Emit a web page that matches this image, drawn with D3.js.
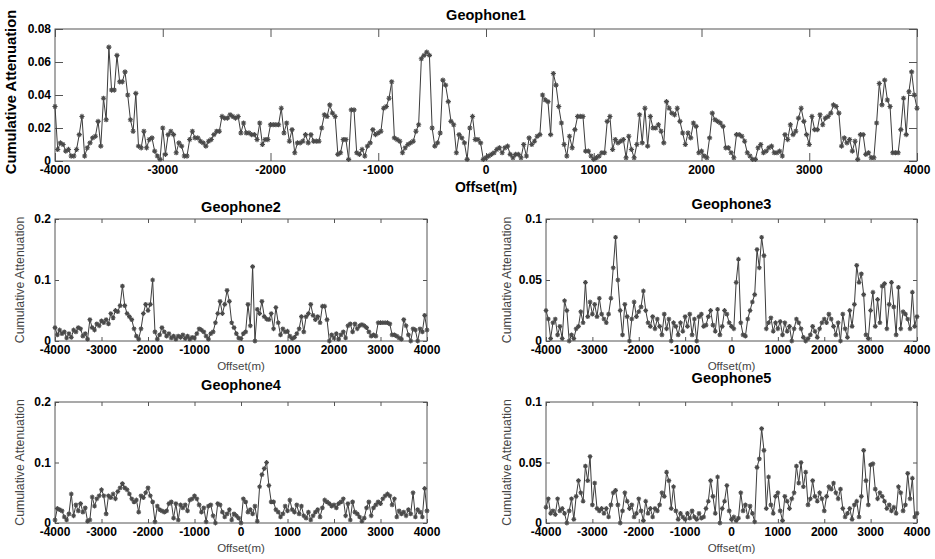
<!DOCTYPE html>
<html>
<head>
<meta charset="utf-8">
<script src="https://cdn.jsdelivr.net/npm/d3@7"></script>
<style>
  body { margin: 0; background: #fff; }
  svg { display: block; font-family: "Liberation Sans", Arial, sans-serif; }
  .tick-label { font-weight: bold; font-size: 12px; fill: #000; }
</style>
</head>
<body>
<svg id="chart" width="935" height="559"></svg>
<script>
// offsets in metres, sampled at a fixed step along each line
var OFFSET_MIN = -4000;
var OFFSET_MAX = 4000;
var X_TICKS = [-4000, -3000, -2000, -1000, 0, 1000, 2000, 3000, 4000];

// Geophone1: one value every 25 m
var GEO1 = [
  .033,.007,.011,.010,.006,.007,.003,.003,.007,.016,
  .027,.003,.008,.011,.014,.015,.024,.009,.038,.025,
  .069,.043,.043,.064,.048,.048,.054,.040,.025,.018,
  .041,.009,.008,.018,.008,.013,.014,.006,.003,.001,
  .020,.004,.016,.018,.016,.005,.011,.009,.003,.003,
  .013,.018,.014,.014,.012,.011,.009,.012,.013,.016,
  .018,.018,.027,.026,.026,.028,.027,.026,.027,.017,
  .023,.017,.017,.016,.016,.013,.023,.010,.013,.013,
  .022,.022,.022,.022,.032,.017,.023,.012,.019,.005,
  .011,.011,.012,.016,.011,.016,.012,.012,.012,.020,
  .028,.027,.034,.029,.027,.004,.005,.013,.013,.001,
  .031,.031,.005,.004,.007,.003,.009,.011,.019,.016,
  .017,.018,.032,.033,.038,.048,.014,.013,.012,.005,
  .008,.010,.011,.012,.018,.022,.062,.064,.066,.064,
  .020,.009,.011,.017,.049,.046,.036,.024,.022,.005,
  .016,.014,.011,.001,.020,.027,.013,.013,.011,.001,
  .002,.003,.004,.005,.007,.008,.005,.008,.009,.004,
  .002,.004,.004,.002,.010,.003,.014,.010,.012,.015,
  .016,.040,.037,.036,.016,.053,.046,.033,.023,.010,
  .003,.015,.008,.019,.027,.027,.027,.006,.006,.003,
  .001,.002,.003,.005,.005,.024,.027,.007,.013,.011,
  .012,.013,.002,.015,.007,.002,.010,.028,.011,.032,
  .009,.027,.020,.020,.022,.018,.011,.036,.032,.029,
  .028,.032,.024,.017,.010,.017,.014,.023,.021,.005,
  .006,.003,.002,.014,.029,.025,.024,.023,.021,.008,
  .008,.005,.002,.016,.016,.015,.012,.005,.003,.001,
  .001,.008,.010,.005,.006,.008,.009,.005,.005,.006,
  .003,.016,.013,.022,.016,.018,.026,.032,.024,.016,
  .010,.027,.019,.019,.028,.022,.026,.027,.029,.034,
  .033,.029,.009,.014,.011,.013,.006,.012,.001,.016,
  .016,.004,.005,.002,.002,.023,.047,.034,.049,.037,
  .033,.005,.005,.005,.019,.038,.016,.042,.054,.040,
  .032
];

// Geophone2..5: one value every 50 m
var GEO2 = [
  .022,.010,.018,.012,.015,.005,.012,.006,.018,.015,
  .022,.020,.008,.012,.003,.035,.022,.018,.028,.025,
  .033,.030,.035,.028,.045,.038,.050,.048,.058,.090,
  .058,.045,.040,.035,.020,.008,.003,.020,.045,.060,
  .050,.060,.100,.015,.003,.010,.022,.015,.008,.012,
  .005,.008,.003,.008,.006,.010,.004,.008,.003,.006,
  .005,.012,.020,.018,.015,.008,.003,.012,.015,.030,
  .045,.065,.045,.060,.083,.065,.030,.022,.012,.005,
  .004,.012,.015,.060,.025,.122,.000,.052,.045,.065,
  .040,.036,.035,.045,.020,.055,.030,.010,.020,.015,
  .016,.008,.004,.006,.012,.020,.040,.015,.040,.045,
  .060,.042,.035,.040,.030,.057,.057,.035,.000,.010,
  .005,.012,.003,.010,.015,.005,.025,.028,.015,.028,
  .020,.025,.027,.025,.022,.015,.008,.010,.008,.030,
  .030,.030,.030,.030,.028,.010,.010,.008,.005,.003,
  .035,.025,.010,.000,.020,.018,.000,.020,.015,.042,
  .018
];

var GEO3 = [
  .025,.018,.002,.015,.018,.005,.012,.002,.033,.025,
  .000,.005,.002,.010,.012,.024,.015,.048,.020,.032,
  .022,.030,.020,.035,.022,.018,.015,.022,.035,.060,
  .085,.050,.025,.005,.030,.020,.000,.018,.032,.020,
  .024,.028,.041,.025,.015,.012,.020,.010,.018,.012,
  .005,.022,.010,.018,.000,.015,.012,.005,.015,.008,
  .020,.012,.022,.005,.018,.000,.020,.022,.012,.013,
  .020,.025,.013,.008,.026,.005,.012,.025,.022,.015,
  .012,.010,.048,.067,.015,.005,.004,.018,.025,.032,
  .038,.075,.060,.085,.070,.010,.015,.019,.008,.015,
  .010,.016,.005,.015,.008,.012,.000,.010,.018,.015,
  .010,.003,.000,.002,.005,.012,.008,.003,.010,.015,
  .018,.015,.022,.018,.012,.005,.015,.000,.022,.010,
  .003,.025,.012,.030,.062,.048,.055,.038,.005,.002,
  .025,.040,.012,.034,.015,.045,.047,.010,.030,.048,
  .028,.005,.044,.010,.024,.022,.018,.010,.040,.012,
  .020
];

var GEO4 = [
  .005,.024,.022,.020,.010,.005,.015,.048,.012,.030,
  .020,.032,.018,.025,.003,.005,.043,.028,.040,.045,
  .055,.045,.015,.045,.042,.048,.040,.052,.058,.065,
  .058,.055,.048,.040,.035,.038,.018,.045,.042,.050,
  .058,.045,.035,.002,.028,.022,.020,.018,.020,.032,
  .035,.008,.032,.005,.030,.025,.030,.020,.038,.040,
  .045,.040,.030,.018,.025,.002,.028,.030,.012,.000,
  .032,.030,.018,.010,.015,.022,.005,.015,.012,.008,
  .000,.040,.035,.018,.022,.015,.028,.003,.060,.080,
  .090,.100,.062,.035,.035,.022,.018,.010,.015,.028,
  .020,.038,.022,.018,.030,.015,.028,.012,.008,.018,
  .005,.012,.018,.022,.010,.025,.038,.035,.032,.028,
  .030,.025,.032,.035,.040,.012,.032,.005,.035,.018,
  .015,.010,.003,.008,.025,.035,.012,.025,.030,.035,
  .032,.040,.045,.048,.045,.030,.040,.010,.020,.015,
  .018,.012,.022,.015,.050,.010,.022,.018,.010,.057,
  .020
];

var GEO5 = [
  .013,.020,.008,.010,.007,.020,.010,.012,.008,.000,
  .010,.020,.003,.022,.035,.025,.018,.047,.035,.055,
  .015,.033,.012,.010,.012,.008,.012,.005,.015,.025,
  .027,.015,.000,.010,.025,.018,.012,.015,.005,.008,
  .020,.010,.002,.018,.008,.012,.005,.012,.010,.015,
  .025,.022,.042,.035,.012,.030,.010,.003,.008,.005,
  .003,.008,.004,.010,.005,.003,.008,.004,.005,.012,
  .018,.035,.022,.008,.038,.000,.012,.018,.031,.010,
  .003,.005,.002,.004,.025,.010,.015,.005,.014,.008,
  .001,.046,.053,.078,.060,.012,.038,.015,.008,.022,
  .025,.010,.002,.022,.018,.012,.020,.025,.047,.033,
  .050,.030,.042,.015,.020,.035,.022,.018,.025,.020,
  .010,.022,.030,.028,.033,.025,.020,.028,.012,.005,
  .008,.012,.003,.015,.018,.005,.022,.060,.035,.015,
  .048,.049,.028,.020,.025,.022,.018,.012,.015,.010,
  .013,.008,.030,.025,.010,.015,.041,.020,.037,.005,
  .008
];

var TITLES = ["Geophone1", "Geophone2", "Geophone3", "Geophone4", "Geophone5"];
var Y_TICKS_WIDE = [0, 0.02, 0.04, 0.06, 0.08];
var Y_TICKS_02 = [0, 0.1, 0.2];
var Y_TICKS_01 = [0, 0.05, 0.1];

// layout of each axes box: left, top, right, bottom
var panels = [
  {title: TITLES[0], values: GEO1, step: 25, box: [55, 29, 917, 161], yMax: 0.08, yTicks: Y_TICKS_WIDE, big: true},
  {title: TITLES[1], values: GEO2, step: 50, box: [55, 219, 427, 341], yMax: 0.2, yTicks: Y_TICKS_02, titleY: 212, labelX: 24},
  {title: TITLES[2], values: GEO3, step: 50, box: [546, 219, 917, 341], yMax: 0.1, yTicks: Y_TICKS_01, titleY: 209, labelX: 511},
  {title: TITLES[3], values: GEO4, step: 50, box: [55, 402, 427, 523], yMax: 0.2, yTicks: Y_TICKS_02, titleY: 390, labelX: 24},
  {title: TITLES[4], values: GEO5, step: 50, box: [546, 402, 917, 523], yMax: 0.1, yTicks: Y_TICKS_01, titleY: 383, labelX: 511}
];

var svg = d3.select("#chart");

function starPath(r) {
  var k = r * 0.7;
  return "M" + (-r) + ",0H" + r + "M0," + (-r) + "V" + r +
         "M" + (-k) + "," + (-k) + "L" + k + "," + k +
         "M" + (-k) + "," + k + "L" + k + "," + (-k);
}

function drawPanel(p) {
  var left = p.box[0], top = p.box[1], right = p.box[2], bottom = p.box[3];
  var x = d3.scaleLinear().domain([OFFSET_MIN, OFFSET_MAX]).range([left, right]);
  var y = d3.scaleLinear().domain([0, p.yMax]).range([bottom, top]);
  var tickLen = p.big ? 8 : 4;
  var g = svg.append("g");

  // inward ticks on all four sides, matlab style
  g.append("g").attr("transform", "translate(0," + bottom + ")")
    .call(d3.axisTop(x).tickValues(X_TICKS).tickSize(tickLen).tickFormat(""));
  g.append("g").attr("transform", "translate(0," + top + ")")
    .call(d3.axisBottom(x).tickValues(X_TICKS).tickSize(tickLen).tickFormat(""));
  g.append("g").attr("transform", "translate(" + left + ",0)")
    .call(d3.axisRight(y).tickValues(p.yTicks).tickSize(tickLen).tickFormat(""));
  g.append("g").attr("transform", "translate(" + right + ",0)")
    .call(d3.axisLeft(y).tickValues(p.yTicks).tickSize(tickLen).tickFormat(""));
  g.selectAll(".domain").remove();
  g.selectAll(".tick line").attr("stroke", "#555");

  g.append("rect").attr("x", left).attr("y", top)
    .attr("width", right - left).attr("height", bottom - top)
    .attr("fill", "none").attr("stroke", "#555").attr("stroke-width", 1);

  // tick labels
  g.selectAll(".xl").data(X_TICKS).enter().append("text")
    .attr("class", "tick-label")
    .attr("x", function(d) { return x(d); })
    .attr("y", bottom + 13)
    .attr("text-anchor", "middle")
    .text(function(d) { return d; });
  g.selectAll(".yl").data(p.yTicks).enter().append("text")
    .attr("class", "tick-label")
    .attr("x", left - 4)
    .attr("y", function(d) { return y(d) + 4; })
    .attr("text-anchor", "end")
    .text(function(d) { return String(d); });

  var pts = p.values.map(function(v, i) { return {x: OFFSET_MIN + i * p.step, y: v}; });
  var line = d3.line().x(function(d) { return x(d.x); }).y(function(d) { return y(d.y); });

  g.append("path").datum(pts).attr("d", line)
    .attr("fill", "none").attr("stroke", "#3c3c3c").attr("stroke-width", 1);

  g.selectAll(".mk").data(pts).enter().append("path")
    .attr("transform", function(d) { return "translate(" + x(d.x) + "," + y(d.y) + ")"; })
    .attr("d", starPath(p.big ? 2.6 : 2.4))
    .attr("fill", "none").attr("stroke", "#4a4a4a").attr("stroke-width", 1.1);

  var cx = (left + right) / 2, cy = (top + bottom) / 2;
  if (p.big) {
    g.append("text").attr("x", cx).attr("y", 20).attr("text-anchor", "middle")
      .attr("font-weight", "bold").attr("font-size", 14.5).text(p.title);
    g.append("text").attr("x", cx).attr("y", 192).attr("text-anchor", "middle")
      .attr("font-weight", "bold").attr("font-size", 14).text("Offset(m)");
    g.append("text").attr("transform", "translate(16," + 92 + ") rotate(-90)")
      .attr("text-anchor", "middle").attr("font-weight", "bold").attr("font-size", 14.7)
      .text("Cumulative Attenuation");
  } else {
    g.append("text").attr("x", cx).attr("y", p.titleY).attr("text-anchor", "middle")
      .attr("font-weight", "bold").attr("font-size", 14.5).text(p.title);
    g.append("text").attr("x", cx).attr("y", bottom + 29).attr("text-anchor", "middle")
      .attr("font-size", 11.5).attr("fill", "#444").text("Offset(m)");
    g.append("text").attr("transform", "translate(" + p.labelX + "," + cy + ") rotate(-90)")
      .attr("text-anchor", "middle").attr("font-size", 12.3).attr("fill", "#444")
      .text("Cumulative Attenuation");
  }
}

panels.forEach(drawPanel);
</script>
</body>
</html>
